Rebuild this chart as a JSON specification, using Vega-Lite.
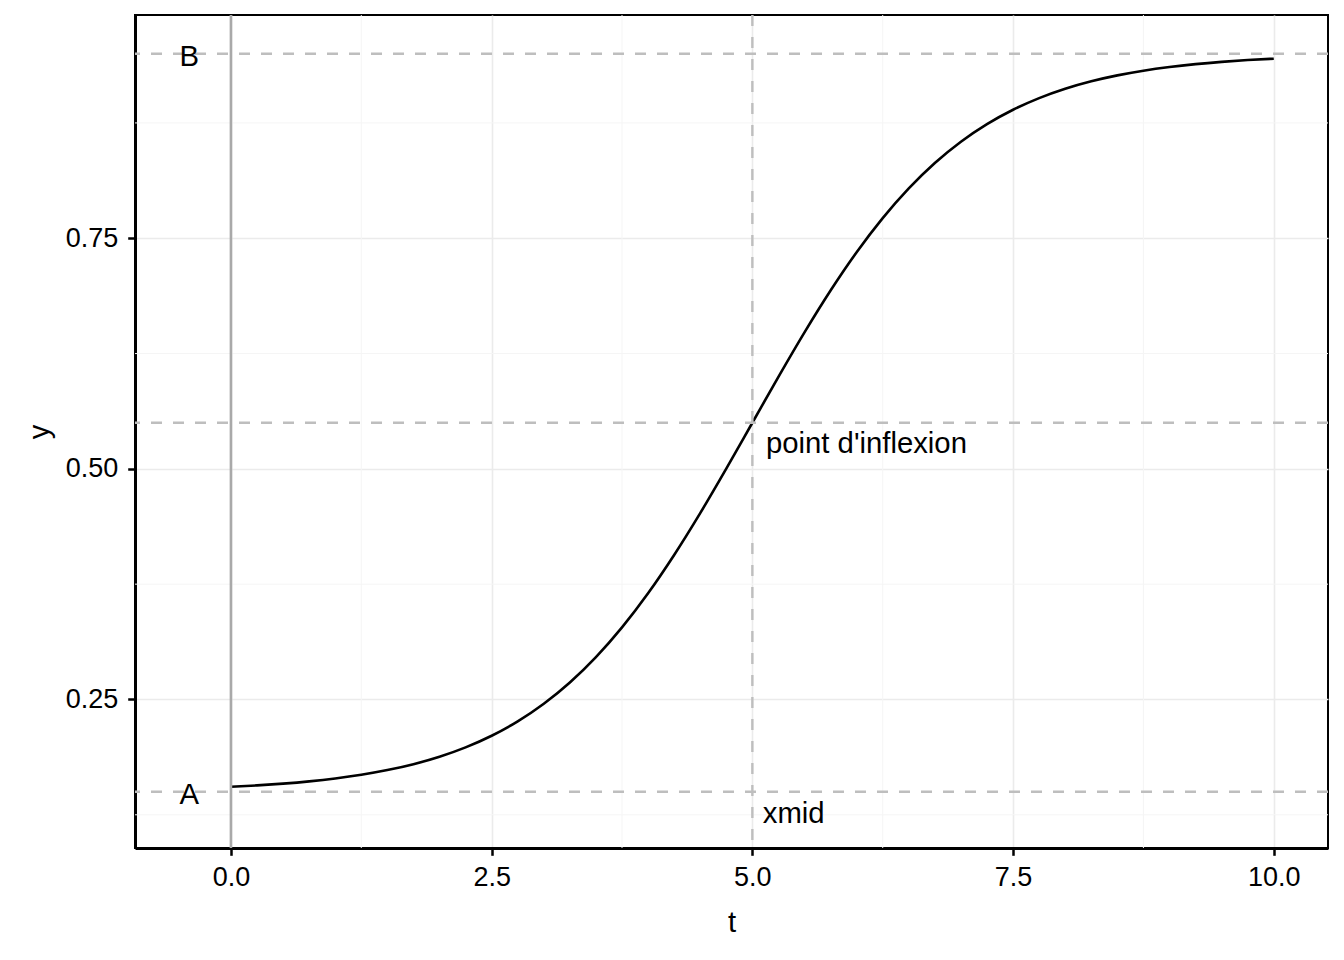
{
  "$schema": "https://vega.github.io/schema/vega-lite/v6.json",
  "width": 1193,
  "height": 833,
  "autosize": "none",
  "padding": {"left": 135, "top": 15, "right": 16, "bottom": 112},
  "background": "white",
  "config": {
    "font": "Liberation Sans",
    "view": {"stroke": "black", "strokeWidth": 2},
    "axis": {
      "domainColor": "black",
      "domainWidth": 3,
      "tickColor": "black",
      "tickWidth": 2.5,
      "tickSize": 7.3,
      "labelColor": "black",
      "labelFont": "Liberation Sans",
      "labelFontSize": 27,
      "titleFont": "Liberation Sans",
      "titleFontSize": 29.3,
      "titleFontWeight": "normal",
      "titleColor": "black",
      "gridColor": "#ebebeb",
      "gridWidth": 1.6
    }
  },
  "datasets": {
    "curve": [
      {"t": 0, "y": 0.15535}, {"t": 0.25, "y": 0.15686}, {"t": 0.5, "y": 0.15879}, {"t": 0.75, "y": 0.16125},
      {"t": 1, "y": 0.16439}, {"t": 1.25, "y": 0.16838}, {"t": 1.5, "y": 0.17345}, {"t": 1.75, "y": 0.17986},
      {"t": 2, "y": 0.18794}, {"t": 2.25, "y": 0.19807}, {"t": 2.5, "y": 0.21069}, {"t": 2.75, "y": 0.22628},
      {"t": 3, "y": 0.24536}, {"t": 3.25, "y": 0.26844}, {"t": 3.5, "y": 0.29594}, {"t": 3.75, "y": 0.32816},
      {"t": 4, "y": 0.36515}, {"t": 4.25, "y": 0.40666}, {"t": 4.5, "y": 0.45203}, {"t": 4.75, "y": 0.50026},
      {"t": 5, "y": 0.55}, {"t": 5.25, "y": 0.59974}, {"t": 5.5, "y": 0.64797}, {"t": 5.75, "y": 0.69334},
      {"t": 6, "y": 0.73485}, {"t": 6.25, "y": 0.77184}, {"t": 6.5, "y": 0.80406}, {"t": 6.75, "y": 0.83156},
      {"t": 7, "y": 0.85464}, {"t": 7.25, "y": 0.87372}, {"t": 7.5, "y": 0.88931}, {"t": 7.75, "y": 0.90193},
      {"t": 8, "y": 0.91206}, {"t": 8.25, "y": 0.92014}, {"t": 8.5, "y": 0.92655}, {"t": 8.75, "y": 0.93162},
      {"t": 9, "y": 0.93561}, {"t": 9.25, "y": 0.93875}, {"t": 9.5, "y": 0.94121}, {"t": 9.75, "y": 0.94314},
      {"t": 10, "y": 0.94465}
    ],
    "minorX": [{"t": 1.25}, {"t": 3.75}, {"t": 6.25}, {"t": 8.75}],
    "minorY": [{"y": 0.125}, {"y": 0.375}, {"y": 0.625}, {"y": 0.875}],
    "hlines": [{"y": 0.15}, {"y": 0.55}, {"y": 0.95}],
    "vlines": [{"t": 5}],
    "zeroline": [{"t": 0}],
    "labelsAB": [{"t": -0.4, "y": 0.947, "label": "B"}, {"t": -0.4, "y": 0.146, "label": "A"}],
    "labelsOther": [{"t": 5.13, "y": 0.527, "label": "point d'inflexion"}, {"t": 5.1, "y": 0.126, "label": "xmid"}]
  },
  "layer": [
    {
      "data": {"name": "minorX"},
      "mark": {"type": "rule", "color": "#f5f5f5", "strokeWidth": 1},
      "encoding": {
        "x": {"field": "t", "type": "quantitative", "scale": {"domain": [-0.92, 10.52], "nice": false, "zero": false}}
      }
    },
    {
      "data": {"name": "minorY"},
      "mark": {"type": "rule", "color": "#f5f5f5", "strokeWidth": 1},
      "encoding": {
        "y": {"field": "y", "type": "quantitative", "scale": {"domain": [0.089, 0.992], "nice": false, "zero": false}}
      }
    },
    {
      "data": {"name": "curve"},
      "mark": {"type": "line", "color": "black", "strokeWidth": 2.6, "interpolate": "monotone"},
      "encoding": {
        "x": {"field": "t", "type": "quantitative", "title": "t",
          "scale": {"domain": [-0.92, 10.52], "nice": false, "zero": false},
          "axis": {"values": [0, 2.5, 5, 7.5, 10], "format": ".1f", "labelPadding": 9, "titlePadding": 18}},
        "y": {"field": "y", "type": "quantitative", "title": "y",
          "scale": {"domain": [0.089, 0.992], "nice": false, "zero": false},
          "axis": {"values": [0.25, 0.5, 0.75], "format": ".2f", "labelPadding": 10, "titlePadding": 11}}
      }
    },
    {
      "data": {"name": "zeroline"},
      "mark": {"type": "rule", "color": "#a9a9a9", "strokeWidth": 2.6},
      "encoding": {"x": {"field": "t", "type": "quantitative"}}
    },
    {
      "data": {"name": "hlines"},
      "mark": {"type": "rule", "color": "#bebebe", "strokeWidth": 2.4, "strokeDash": [11, 11]},
      "encoding": {"y": {"field": "y", "type": "quantitative"}}
    },
    {
      "data": {"name": "vlines"},
      "mark": {"type": "rule", "color": "#bebebe", "strokeWidth": 2.4, "strokeDash": [11, 11]},
      "encoding": {"x": {"field": "t", "type": "quantitative"}}
    },
    {
      "data": {"name": "labelsAB"},
      "mark": {"type": "text", "fontSize": 29.3, "font": "Liberation Sans", "color": "black", "align": "center", "baseline": "middle"},
      "encoding": {
        "x": {"field": "t", "type": "quantitative"},
        "y": {"field": "y", "type": "quantitative"},
        "text": {"field": "label"}
      }
    },
    {
      "data": {"name": "labelsOther"},
      "mark": {"type": "text", "fontSize": 29.3, "font": "Liberation Sans", "color": "black", "align": "left", "baseline": "middle"},
      "encoding": {
        "x": {"field": "t", "type": "quantitative"},
        "y": {"field": "y", "type": "quantitative"},
        "text": {"field": "label"}
      }
    }
  ]
}
